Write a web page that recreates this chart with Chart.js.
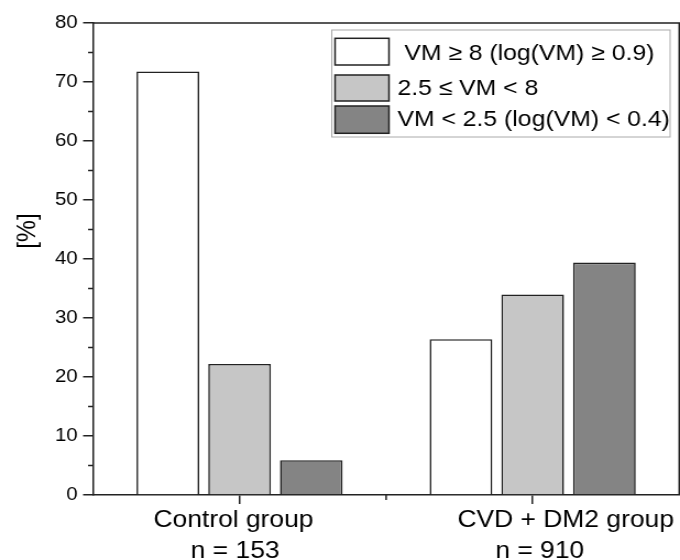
<!DOCTYPE html>
<html>
<head>
<meta charset="utf-8">
<script src="https://cdn.jsdelivr.net/npm/chart.js@4.4.1/dist/chart.umd.min.js"></script>
<style>
  body { margin: 0; background: #fff; }
</style>
</head>
<body>
<!-- drawn at 618 wide and stretched to 680 so text matches the source's wider lettering -->
<canvas id="chart" width="618" height="560" style="width:680px;height:560px;display:block"></canvas>
<script>
const categories = [['Control group', 'n = 153'], ['CVD + DM2 group', 'n = 910']];
const seriesLabels = [' VM \u2265 8 (log(VM) \u2265 0.9)', '2.5 \u2264 VM < 8', 'VM < 2.5 (log(VM) < 0.4)'];
const highVM = [71.8, 26.4];
const midVM = [22.2, 34.0];
const lowVM = [5.9, 39.4];
const yMin = 0;
const yMax = 80;
const yStep = 10;
const yTitle = '[%]';

const FONT = "'Liberation Sans', Arial, sans-serif";
const INK = '#222';

// frame, minor ticks, y title, category labels and boxed legend
const extras = {
  id: 'extras',
  afterDraw(chart) {
    const {ctx, chartArea: a, scales: {x, y}} = chart;
    ctx.save();
    ctx.strokeStyle = INK;
    ctx.lineWidth = 1.5;
    ctx.beginPath();
    ctx.moveTo(a.left, a.top);
    ctx.lineTo(a.right, a.top);
    ctx.lineTo(a.right, a.bottom);
    for (let v = yMin + yStep / 2; v < yMax; v += yStep) {
      const py = y.getPixelForValue(v);
      ctx.moveTo(a.left - 4.5, py);
      ctx.lineTo(a.left, py);
    }
    const mx = (x.getPixelForValue(0) + x.getPixelForValue(1)) / 2;
    ctx.moveTo(mx, a.bottom);
    ctx.lineTo(mx, a.bottom + 5);
    ctx.stroke();

    ctx.fillStyle = '#000';

    // y title, a bit above the middle as in the source
    ctx.save();
    ctx.translate(25.5, 231);
    ctx.rotate(-Math.PI / 2);
    ctx.font = '24.5px ' + FONT;
    ctx.textAlign = 'center';
    ctx.textBaseline = 'middle';
    ctx.fillText(yTitle, 0, 0);
    ctx.restore();

    // category labels, lines sit slightly off centre like the original
    const shift = [[-5.5, -4], [30, 6.4]];
    const baselines = [526.5, 558];
    ctx.font = '24px ' + FONT;
    ctx.textAlign = 'center';
    ctx.textBaseline = 'alphabetic';
    chart.data.labels.forEach((lines, i) => {
      const cx = x.getPixelForValue(i);
      lines.forEach((t, j) => ctx.fillText(t, cx + shift[i][j], baselines[j]));
    });

    // legend
    ctx.textAlign = 'left';
    ctx.lineWidth = 1;
    ctx.strokeStyle = '#aaa';
    ctx.strokeRect(301.5, 30, 307.5, 107);
    const boxTops = [38.3, 75, 106];
    const boxHeights = [26.7, 26, 27.3];
    const rowBase = [59.5, 95.2, 126.2];
    ctx.font = '22.5px ' + FONT;
    chart.data.datasets.forEach((ds, i) => {
      ctx.fillStyle = ds.backgroundColor;
      ctx.fillRect(304.5, boxTops[i], 49, boxHeights[i]);
      ctx.strokeStyle = INK;
      ctx.lineWidth = 1.5;
      ctx.strokeRect(304.5, boxTops[i], 49, boxHeights[i]);
      ctx.fillStyle = '#000';
      ctx.fillText(ds.label, 361.2, rowBase[i]);
    });
    ctx.restore();
  }
};

const barStyle = {
  borderColor: INK,
  borderWidth: 1.6,
  categoryPercentage: 0.734,
  barPercentage: 0.874
};

new Chart(document.getElementById('chart'), {
  type: 'bar',
  data: {
    labels: categories,
    datasets: [
      Object.assign({label: seriesLabels[0], data: highVM, backgroundColor: '#ffffff'}, barStyle),
      Object.assign({label: seriesLabels[1], data: midVM, backgroundColor: '#c6c6c6'}, barStyle),
      Object.assign({label: seriesLabels[2], data: lowVM, backgroundColor: '#848484'}, barStyle)
    ]
  },
  options: {
    responsive: false,
    devicePixelRatio: 1,
    animation: false,
    layout: { padding: { top: 23, right: 0.7, left: 0, bottom: 0 } },
    plugins: {
      legend: { display: false },
      tooltip: { enabled: false }
    },
    scales: {
      x: {
        afterFit(scale) { scale.height = 65; },
        grid: { offset: false, drawOnChartArea: false, tickLength: 9, color: INK, lineWidth: 1.5 },
        border: { color: INK, width: 1.5 },
        ticks: { display: false }
      },
      y: {
        min: yMin,
        max: yMax,
        afterFit(scale) { scale.width = 84.5; },
        grid: { drawOnChartArea: false, tickLength: 9, color: INK, lineWidth: 1.5 },
        border: { color: INK, width: 1.5 },
        ticks: {
          stepSize: yStep,
          color: '#000',
          padding: 5,
          font: { family: FONT, size: 18.5 }
        }
      }
    }
  },
  plugins: [extras]
});
</script>
</body>
</html>
